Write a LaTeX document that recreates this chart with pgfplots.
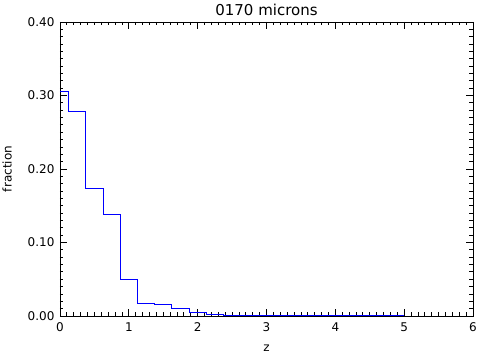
\documentclass[border=0pt]{standalone}
\usepackage{pgfplots}
\pgfplotsset{compat=1.18}
\usepackage{fontspec}
\setmainfont{DejaVu Sans}
\begin{document}
\begin{tikzpicture}[x=1pt,y=1pt]
\path[use as bounding box] (-60,-39) rectangle (419,316);
\begin{axis}[
  at={(0,0)}, anchor=south west,
  scale only axis,
  width=413pt, height=294pt,
  xmin=0, xmax=6, ymin=0, ymax=0.40,
  xtick={0,1,2,3,4,5,6},
  ytick={0,0.1,0.2,0.3,0.4},
  yticklabels={0.00,0.10,0.20,0.30,0.40},
  minor x tick num=9,
  minor y tick num=9,
  tick align=inside,
  major tick length=7pt,
  minor tick length=3.5pt,
  tick style={black, line width=0.8pt},
  axis line style={line width=0.9pt},
  /pgf/number format/assume math mode=true,
  ticklabel style={font=\fontsize{12}{14}\selectfont},
  xticklabel style={yshift=-3pt},
  yticklabel style={xshift=-2pt},
  title={0170 microns},
  every axis title shift=0pt,
  title style={font=\fontsize{15}{17}\selectfont, at={(axis description cs:0.5,1)}, anchor=center, yshift=12pt},
  xlabel={z},
  ylabel={fraction},
  label style={font=\fontsize{12}{14}\selectfont},
  xlabel style={at={(axis description cs:0.5,0)}, anchor=center, yshift=-32pt},
  ylabel style={at={(axis description cs:-0.128,0.5)}, anchor=center},
  clip=false,
]
\addplot[const plot mark left, blue, line width=1pt] coordinates {
(0,0.305) (0.125,0.278) (0.375,0.173) (0.625,0.138) (0.875,0.050)
(1.125,0.0176) (1.375,0.016) (1.625,0.0108) (1.875,0.0054)
(2.125,0.0027) (2.375,0.001) (2.625,0) (2.875,0.0012) (3.275,0) (5.0,0)
};
\end{axis}
\end{tikzpicture}
\end{document}
